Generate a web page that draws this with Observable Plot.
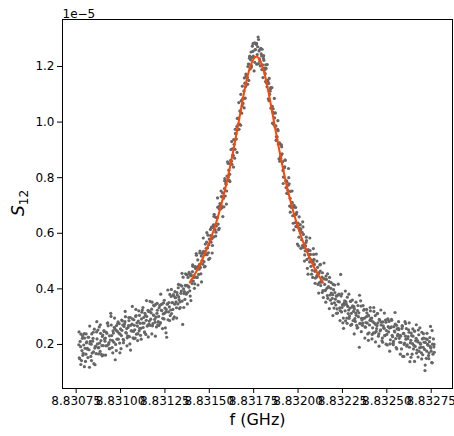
<!DOCTYPE html>
<html>
<head>
<meta charset="utf-8">
<script src="https://cdn.jsdelivr.net/npm/d3@7"></script>
<script src="https://cdn.jsdelivr.net/npm/@observablehq/plot@0.6"></script>
<style>
  html, body { margin: 0; padding: 0; background: white; }
  #chart { width: 454px; height: 436px; }
</style>
</head>
<body>
<div id="chart"></div>
<script>
// Frequency sweep (GHz): start and step of the measured grid
const freqStart = 8.830765;
const freqStep = 0.000005;

// Measured S12 values (units of 1e-5), sweep points on the grid
const s12 = [
  0.199, 0.149, 0.192, 0.142, 0.222, 0.168, 0.239, 0.186, 0.165, 0.209,
  0.183, 0.226, 0.118, 0.211, 0.201, 0.169, 0.222, 0.131, 0.187, 0.194,
  0.245, 0.202, 0.188, 0.263, 0.175, 0.214, 0.196, 0.234, 0.162, 0.220,
  0.223, 0.244, 0.196, 0.267, 0.207, 0.185, 0.312, 0.232, 0.214, 0.241,
  0.262, 0.145, 0.251, 0.219, 0.276, 0.241, 0.205, 0.256, 0.232, 0.285,
  0.218, 0.265, 0.282, 0.243, 0.257, 0.231, 0.268, 0.228, 0.297, 0.249,
  0.273, 0.224, 0.289, 0.253, 0.301, 0.237, 0.266, 0.284, 0.249, 0.276,
  0.258, 0.316, 0.277, 0.297, 0.245, 0.304, 0.287, 0.266, 0.323, 0.273,
  0.318, 0.291, 0.327, 0.267, 0.306, 0.339, 0.280, 0.298, 0.312, 0.271,
  0.301, 0.340, 0.279, 0.323, 0.346, 0.310, 0.292, 0.331, 0.317, 0.226,
  0.346, 0.317, 0.335, 0.304, 0.373, 0.350, 0.326, 0.375, 0.345, 0.368,
  0.332, 0.378, 0.404, 0.361, 0.353, 0.384, 0.410, 0.272, 0.400, 0.390,
  0.413, 0.381, 0.413, 0.441, 0.406, 0.393, 0.447, 0.429, 0.462, 0.428,
  0.441, 0.480, 0.442, 0.477, 0.504, 0.452, 0.488, 0.477, 0.518, 0.503,
  0.529, 0.498, 0.532, 0.523, 0.568, 0.547, 0.530, 0.579, 0.577, 0.568,
  0.581, 0.621, 0.587, 0.629, 0.658, 0.626, 0.656, 0.633, 0.688, 0.707,
  0.703, 0.691, 0.745, 0.726, 0.761, 0.734, 0.776, 0.806, 0.790, 0.827,
  0.812, 0.862, 0.859, 0.904, 0.880, 0.920, 0.902, 0.958, 0.984, 0.972,
  1.014, 0.993, 1.038, 1.077, 1.058, 1.067, 1.112, 1.140, 1.128, 1.161,
  1.160, 1.209, 1.208, 1.191, 1.252, 1.233, 1.254, 1.233, 1.285, 1.261,
  1.279, 1.243, 1.306, 1.256, 1.219, 1.265, 1.238, 1.206, 1.229, 1.194,
  1.174, 1.193, 1.127, 1.147, 1.139, 1.100, 1.120, 1.052, 1.057, 1.048,
  1.032, 0.983, 0.986, 0.937, 0.974, 0.920, 0.925, 0.875, 0.881, 0.886,
  0.826, 0.837, 0.839, 0.788, 0.789, 0.743, 0.773, 0.778, 0.726, 0.698,
  0.709, 0.663, 0.694, 0.668, 0.638, 0.668, 0.628, 0.637, 0.586, 0.610,
  0.614, 0.577, 0.556, 0.596, 0.560, 0.537, 0.567, 0.506, 0.536, 0.523,
  0.497, 0.524, 0.504, 0.467, 0.498, 0.506, 0.463, 0.467, 0.443, 0.477,
  0.458, 0.423, 0.464, 0.428, 0.442, 0.394, 0.436, 0.416, 0.396, 0.434,
  0.376, 0.407, 0.426, 0.378, 0.402, 0.347, 0.379, 0.397, 0.350, 0.363,
  0.375, 0.328, 0.355, 0.381, 0.332, 0.452, 0.317, 0.343, 0.295, 0.350,
  0.321, 0.353, 0.295, 0.337, 0.324, 0.302, 0.355, 0.312, 0.334, 0.286,
  0.336, 0.293, 0.313, 0.269, 0.322, 0.300, 0.190, 0.276, 0.338, 0.288,
  0.277, 0.323, 0.295, 0.262, 0.300, 0.277, 0.306, 0.242, 0.287, 0.294,
  0.295, 0.260, 0.242, 0.277, 0.304, 0.247, 0.268, 0.278, 0.238, 0.287,
  0.253, 0.280, 0.223, 0.267, 0.258, 0.232, 0.280, 0.236, 0.290, 0.245,
  0.259, 0.217, 0.263, 0.233, 0.204, 0.264, 0.245, 0.221, 0.269, 0.231,
  0.258, 0.222, 0.233, 0.207, 0.257, 0.157, 0.240, 0.205, 0.230, 0.257,
  0.199, 0.228, 0.244, 0.138, 0.215, 0.232, 0.203, 0.184, 0.248, 0.193,
  0.222, 0.180, 0.209, 0.235, 0.188, 0.201, 0.170, 0.220, 0.190, 0.208,
  0.106, 0.220, 0.176, 0.200, 0.160, 0.210, 0.192, 0.176, 0.250, 0.165, 0.191
];

// Measured S12 values (units of 1e-5), sweep points half a step after the grid
const s12Mid = [
  0.152, 0.211, 0.237, 0.178, 0.161, 0.198, 0.223, 0.139, 0.206, 0.186,
  0.226, 0.181, 0.203, 0.157, 0.238, 0.212, 0.173, 0.255, 0.192, 0.167,
  0.220, 0.252, 0.189, 0.205, 0.240, 0.164, 0.229, 0.196, 0.247, 0.212,
  0.195, 0.240, 0.278, 0.201, 0.231, 0.216, 0.270, 0.189, 0.249, 0.208,
  0.257, 0.200, 0.268, 0.247, 0.219, 0.275, 0.237, 0.185, 0.251, 0.270,
  0.215, 0.274, 0.300, 0.241, 0.224, 0.261, 0.286, 0.202, 0.269, 0.249,
  0.292, 0.247, 0.269, 0.223, 0.304, 0.278, 0.239, 0.321, 0.258, 0.233,
  0.292, 0.324, 0.261, 0.277, 0.312, 0.236, 0.301, 0.268, 0.319, 0.284,
  0.269, 0.314, 0.352, 0.275, 0.305, 0.290, 0.344, 0.263, 0.323, 0.282,
  0.332, 0.275, 0.343, 0.322, 0.294, 0.350, 0.312, 0.260, 0.326, 0.345,
  0.289, 0.351, 0.380, 0.324, 0.311, 0.351, 0.379, 0.299, 0.369, 0.353,
  0.387, 0.346, 0.371, 0.329, 0.414, 0.392, 0.356, 0.442, 0.383, 0.362,
  0.411, 0.451, 0.387, 0.409, 0.453, 0.374, 0.451, 0.419, 0.481, 0.447,
  0.418, 0.473, 0.521, 0.441, 0.481, 0.471, 0.536, 0.454, 0.527, 0.489,
  0.535, 0.479, 0.561, 0.546, 0.523, 0.593, 0.559, 0.510, 0.592, 0.622,
  0.556, 0.630, 0.668, 0.613, 0.604, 0.656, 0.694, 0.613, 0.698, 0.687,
  0.732, 0.695, 0.732, 0.695, 0.797, 0.781, 0.752, 0.857, 0.802, 0.790,
  0.851, 0.901, 0.848, 0.881, 0.937, 0.870, 0.959, 0.939, 1.013, 0.991,
  0.974, 1.040, 1.100, 1.032, 1.084, 1.084, 1.159, 1.086, 1.167, 1.137,
  1.200, 1.150, 1.237, 1.224, 1.203, 1.273, 1.237, 1.184, 1.260, 1.283,
  1.208, 1.271, 1.297, 1.227, 1.202, 1.245, 1.262, 1.160, 1.222, 1.187,
  1.206, 1.141, 1.150, 1.084, 1.157, 1.111, 1.050, 1.124, 1.036, 0.992,
  1.015, 1.033, 0.947, 0.947, 0.969, 0.868, 0.923, 0.870, 0.911, 0.857,
  0.802, 0.836, 0.863, 0.764, 0.784, 0.754, 0.800, 0.698, 0.751, 0.693,
  0.710, 0.636, 0.700, 0.666, 0.624, 0.675, 0.623, 0.555, 0.619, 0.631,
  0.547, 0.603, 0.623, 0.549, 0.522, 0.555, 0.574, 0.474, 0.541, 0.512,
  0.538, 0.481, 0.498, 0.441, 0.524, 0.488, 0.439, 0.525, 0.449, 0.416,
  0.456, 0.486, 0.412, 0.424, 0.458, 0.369, 0.436, 0.394, 0.446, 0.402,
  0.366, 0.407, 0.441, 0.359, 0.385, 0.366, 0.416, 0.331, 0.387, 0.342,
  0.374, 0.313, 0.378, 0.353, 0.322, 0.374, 0.333, 0.278, 0.341, 0.357,
  0.285, 0.344, 0.370, 0.311, 0.294, 0.331, 0.356, 0.272, 0.339, 0.319,
  0.328, 0.283, 0.305, 0.259, 0.340, 0.314, 0.275, 0.357, 0.294, 0.269,
  0.294, 0.326, 0.263, 0.279, 0.314, 0.238, 0.303, 0.270, 0.321, 0.286,
  0.236, 0.281, 0.319, 0.242, 0.272, 0.257, 0.311, 0.230, 0.290, 0.249,
  0.270, 0.213, 0.281, 0.260, 0.232, 0.288, 0.250, 0.198, 0.264, 0.283,
  0.202, 0.261, 0.287, 0.228, 0.211, 0.248, 0.273, 0.189, 0.256, 0.236,
  0.253, 0.208, 0.230, 0.184, 0.265, 0.239, 0.200, 0.282, 0.219, 0.194,
  0.221, 0.253, 0.190, 0.206, 0.241, 0.165, 0.230, 0.197, 0.248, 0.213,
  0.169, 0.214, 0.252, 0.175, 0.205, 0.190, 0.244, 0.163, 0.223, 0.182,
  0.207, 0.150, 0.218, 0.197, 0.169, 0.225, 0.187, 0.135, 0.201, 0.220,
  0.172
];

// Measured S12 values (units of 1e-5), sweep points every second step (quarter step after the grid)
const s12Quarter = [
  0.245, 0.128, 0.231, 0.120, 0.238,
  0.153, 0.266, 0.142, 0.244, 0.127,
  0.282, 0.166, 0.271, 0.159, 0.250,
  0.162, 0.276, 0.185, 0.301, 0.170,
  0.295, 0.178, 0.281, 0.170, 0.288,
  0.206, 0.319, 0.195, 0.297, 0.180,
  0.337, 0.221, 0.326, 0.214, 0.305,
  0.219, 0.333, 0.242, 0.358, 0.227,
  0.355, 0.238, 0.341, 0.230, 0.348,
  0.268, 0.381, 0.257, 0.359, 0.242,
  0.396, 0.286, 0.398, 0.292, 0.390,
  0.295, 0.416, 0.333, 0.456, 0.333,
  0.454, 0.346, 0.459, 0.358, 0.486,
  0.402, 0.527, 0.414, 0.529, 0.425,
  0.583, 0.481, 0.602, 0.506, 0.614,
  0.529, 0.661, 0.590, 0.727, 0.618,
  0.752, 0.660, 0.789, 0.705, 0.851,
  0.786, 0.930, 0.838, 0.974, 0.891,
  1.070, 0.989, 1.129, 1.051, 1.173,
  1.136, 1.230, 1.196, 1.282, 1.215,
  1.283, 1.210, 1.262, 1.189, 1.239,
  1.146, 1.207, 1.077, 1.124, 0.996,
  1.085, 0.934, 1.005, 0.859, 0.918,
  0.779, 0.863, 0.744, 0.833, 0.676,
  0.752, 0.612, 0.693, 0.561, 0.659,
  0.546, 0.641, 0.500, 0.586, 0.453,
  0.583, 0.453, 0.545, 0.420, 0.500,
  0.385, 0.488, 0.387, 0.493, 0.352,
  0.454, 0.329, 0.423, 0.304, 0.414,
  0.312, 0.417, 0.286, 0.382, 0.258,
  0.392, 0.276, 0.381, 0.269, 0.360,
  0.238, 0.352, 0.261, 0.377, 0.246,
  0.340, 0.223, 0.326, 0.215, 0.333,
  0.220, 0.333, 0.209, 0.311, 0.194,
  0.324, 0.208, 0.313, 0.201, 0.292,
  0.176, 0.290, 0.199, 0.315, 0.184,
  0.282, 0.165, 0.268, 0.157, 0.275,
  0.165, 0.278, 0.154, 0.256, 0.139,
  0.271, 0.155, 0.260, 0.148, 0.239,
  0.126, 0.240, 0.149, 0.265, 0.134,
  0.200
];

// Fitted curve
const fitFreq = [
  8.83139, 8.831415, 8.83144, 8.831465, 8.83149, 8.831515, 8.83154, 8.831565,
  8.83159, 8.831615, 8.83164, 8.831665, 8.83169, 8.831715, 8.831735, 8.83175,
  8.831765, 8.83178, 8.831795, 8.831815, 8.83184, 8.831865, 8.83189, 8.831915,
  8.83194, 8.831965, 8.83199, 8.832015, 8.83204, 8.832065, 8.83209, 8.832115, 8.83214
];
const fitS12 = [
  0.423, 0.449, 0.478, 0.512, 0.550, 0.593, 0.641, 0.697,
  0.761, 0.833, 0.913, 0.999, 1.086, 1.164, 1.207, 1.228,
  1.236, 1.228, 1.207, 1.164, 1.086, 0.999, 0.913, 0.833,
  0.761, 0.697, 0.641, 0.593, 0.550, 0.512, 0.478, 0.449, 0.423
];

// Tick labels
const xTicks = [8.83075, 8.831, 8.83125, 8.8315, 8.83175, 8.832, 8.83225, 8.8325, 8.83275];
const yTicks = [0.2, 0.4, 0.6, 0.8, 1.0, 1.2];

const points = [
  ...s12.map((v, i) => ({f: freqStart + i * freqStep, s: v})),
  ...s12Mid.map((v, i) => ({f: freqStart + (i + 0.5) * freqStep, s: v})),
  ...s12Quarter.map((v, i) => ({f: freqStart + (2 * i + 0.25) * freqStep, s: v}))
];
const fit = fitFreq.map((f, i) => ({f, s: fitS12[i]}));

const chart = Plot.plot({
  width: 454,
  height: 436,
  marginLeft: 62,
  marginRight: 2,
  marginTop: 19,
  marginBottom: 48,
  style: {fontFamily: "DejaVu Sans", fontSize: "12px", color: "black", background: "white"},
  x: {domain: [8.830673, 8.83287]},
  y: {domain: [0.0416, 1.369]},
  marks: [
    Plot.dot(points, {x: "f", y: "s", r: 1.6, fill: "#666666"}),
    Plot.line(fit, {x: "f", y: "s", stroke: "#ff4500", strokeWidth: 2, curve: "natural"}),
    Plot.frame({stroke: "black", strokeWidth: 1}),
    Plot.axisX(xTicks, {tickSize: 5, tickPadding: 3, tickFormat: d3.format(".5f"), label: null, fontSize: 12}),
    Plot.axisY(yTicks, {tickSize: 5, tickPadding: 3, tickFormat: d3.format(".1f"), label: null, fontSize: 12}),
    Plot.text(["1e\u22125"], {frameAnchor: "top-left", dy: -10, textAnchor: "start", fontSize: 12}),
    Plot.text(["f (GHz)"], {frameAnchor: "bottom", dy: 36, fontSize: 16})
  ]
});

document.getElementById("chart").appendChild(chart);

// Y axis label S with subscript 12
const svg = d3.select(chart.tagName.toLowerCase() === "svg" ? chart : chart.querySelector("svg"));
const yl = svg.append("text")
  .attr("transform", "translate(24,203) rotate(-90)")
  .attr("text-anchor", "middle")
  .attr("font-family", "DejaVu Sans")
  .attr("font-size", 17)
  .attr("fill", "black");
yl.append("tspan").attr("font-style", "italic").text("S");
yl.append("tspan").attr("font-size", 12).attr("dy", 4).text("12");
</script>
</body>
</html>
